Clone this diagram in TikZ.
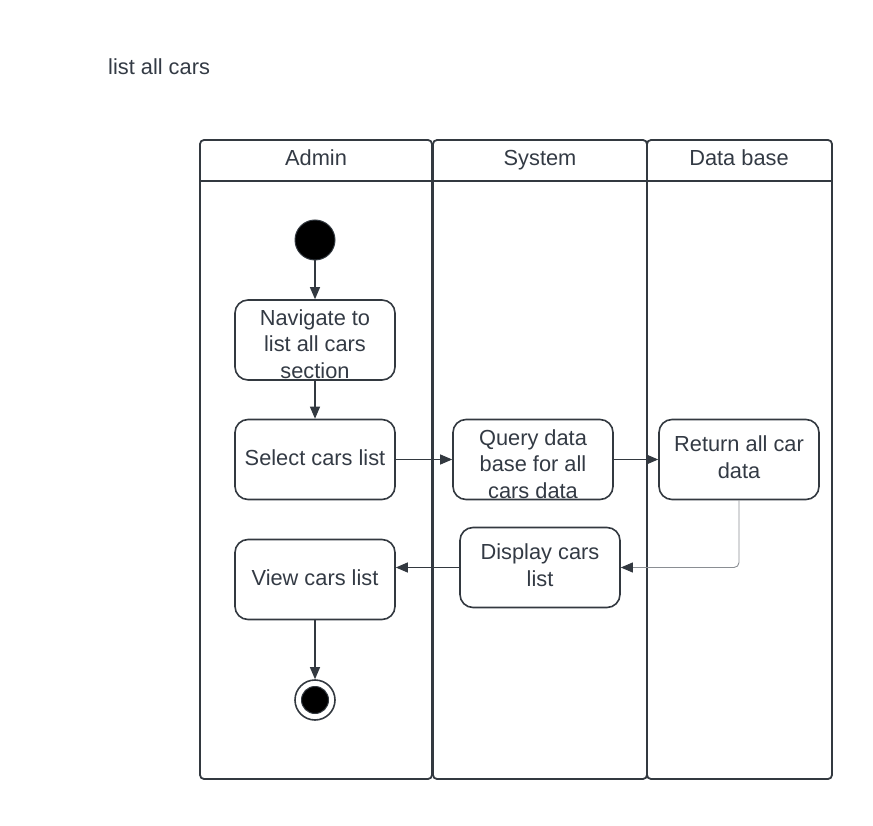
\documentclass[tikz,border=0pt]{standalone}
\usepackage{fontspec}
\setmainfont{Liberation Sans}
\usetikzlibrary{arrows.meta}
\definecolor{ink}{HTML}{333940}
\definecolor{txt}{HTML}{333A44}
\definecolor{thin}{HTML}{8A8E93}
\begin{document}
\begin{tikzpicture}[x=1pt,y=-1pt,
  lane/.style={draw=ink,line width=1.8pt,rounded corners=4pt},
  box/.style={draw=ink,line width=1.6pt,rounded corners=13pt,minimum width=160pt,minimum height=80pt,inner sep=0pt},
  txtnode/.style={text=txt,font=\fontsize{21.8}{26.5}\selectfont,align=center,inner sep=0pt},
  lbl/.style={text=txt,font=\fontsize{21.8}{24}\selectfont,inner sep=0pt,anchor=base},
  flow/.style={draw=ink,line width=1.2pt,-{Triangle[length=12pt,width=10pt]}},
  thinflow/.style={draw=thin,line width=0.9pt,rounded corners=5pt,-{Triangle[length=12pt,width=10pt,color=ink]}}
]
\useasboundingbox (0,0) rectangle (873,826);
% title
\node[lbl,anchor=base west] (title) at (108,74.5) {list all cars};
% lanes
\draw[lane] (200,140) rectangle (432,779);
\draw[lane] (433,140) rectangle (647,779);
\draw[lane] (647,140) rectangle (832,779);
\draw[draw=ink,line width=1.8pt] (200,181) -- (832,181);
\node[lbl] (ladmin) at (316,165.5) {Admin};
\node[lbl] (lsys) at (540,165.5) {System};
\node[lbl] (ldb) at (739,165.5) {Data base};
% start
\node[circle,fill=black,draw=ink,line width=1pt,minimum size=40pt,inner sep=0pt] (start) at (315,240) {};
% boxes
\node[box] (nav) at (315,340) {};
\node[txtnode] (navt) at (315,344) {Navigate to\\list all cars\\section};
\node[box] (sel) at (315,459.5) {};
\node[txtnode] (selt) at (315,458) {Select cars list};
\node[box] (qry) at (533,459.5) {};
\node[txtnode] (qryt) at (533,464) {Query data\\base for all\\cars data};
\node[box] (ret) at (739,459.5) {};
\node[txtnode] (rett) at (739,457) {Return all car\\data};
\node[box] (dsp) at (540,567.5) {};
\node[txtnode] (dspt) at (540,565) {Display cars\\list};
\node[box] (view) at (315,579.5) {};
\node[txtnode] (viewt) at (315,578) {View cars list};
% end
\node[circle,draw=ink,line width=1.6pt,minimum size=40pt,inner sep=0pt] (end) at (315,700) {};
\node[circle,fill=black,draw=ink,line width=1pt,minimum size=27pt,inner sep=0pt] (endin) at (315,700) {};
% connectors
\draw[flow] (start) -- (nav);
\draw[flow] (nav) -- (sel);
\draw[flow] (sel.east) -- (qry.west);
\draw[flow] (qry.east) -- (ret.west);
\draw[thinflow] (ret.south) |- (dsp.east);
\draw[flow] (dsp.west) -- (view.east |- dsp.west);
\draw[flow] (view) -- (end);
\end{tikzpicture}
\end{document}
